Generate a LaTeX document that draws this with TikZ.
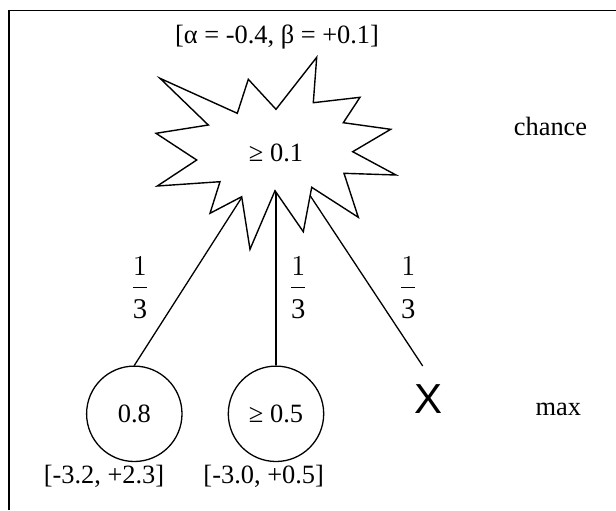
\documentclass[tikz,border=0pt]{standalone}
\usepackage{fontspec}
\setmainfont{Liberation Serif}
\newfontfamily\leafsans{Liberation Sans}
\usetikzlibrary{positioning, calc}
\pgfdeclarelayer{background}
\pgfsetlayers{background,main}
\tikzset{
  frameline/.style={draw=black, line width=0.65pt},
  treeline/.style={draw=black, line width=0.65pt},
  burstline/.style={draw=black, fill=white, line width=0.7pt, line join=miter},
  maxnode/.style={
    circle, draw=black, line width=0.65pt, minimum size=47.7pt, inner sep=0pt,
    font=\fontsize{13.2}{16}\selectfont,
  },
  valtext/.style={inner sep=0pt, font=\fontsize{13.2}{16}\selectfont},
  sidetext/.style={inner sep=0pt, anchor=base, font=\fontsize{13.2}{16}\selectfont},
  probtext/.style={inner sep=0pt, font=\fontsize{14.3}{17}\selectfont},
  leafx/.style={inner sep=0pt, anchor=base, font=\leafsans\fontsize{21}{21}\selectfont},
}
\newcommand{\probfrac}{$\displaystyle\frac{1}{\raisebox{-2pt}{3}}$}

\begin{document}
\begin{tikzpicture}[x=0.5pt, y=-0.5pt]
\useasboundingbox (0,0) rectangle (616,510);

% frame, cut at right and bottom
\draw[frameline] (9,510) |- (616,10.5);

% Chance node -------------------------------------------------------------
\draw[burstline] (316.7,57.3) -- (313.3,102.7) -- (360,97.3) -- (343.3,122.7)
  -- (390.7,129.3) -- (352.7,151.7) -- (396,175) -- (344,173.3)
  -- (358.3,217.3) -- (311.7,187.3) -- (303.3,231.7) -- (275,190.7)
  -- (250,249.3) -- (241.7,196.7) -- (210,213.3) -- (220,181.7)
  -- (157.3,186) -- (196.7,160) -- (156,133.3) -- (208.3,125)
  -- (160,78.3) -- (237.3,113.3) -- (248.3,79.3) -- (276,109.3) -- cycle;
\node[valtext] (chance) at (276,153.3) {≥ 0.1};
\node[valtext] (window) at (277,37) {[α = -0.4, β = +0.1]};

% Max nodes ---------------------------------------------------------------
\node[maxnode] (m1) at (134.3,413.8) {0.8};
\node[maxnode] (m2) at (276,413.8) {≥ 0.5};
\node[leafx] (leaf) at (429,413.3) {X};
\coordinate (leaftop) at (422.7,366);

\node[valtext] (m1win) at ($(m1.south)+(-30.3,13.8)$) {[-3.2, +2.3]};
\node[valtext] (m2win) at ($(m2.south)+(-12.3,13.8)$) {[-3.0, +0.5]};

% Probabilities -----------------------------------------------------------
\node[probtext] (p1) at (140,287.5) {\probfrac};
\node[probtext] (p2) at (298.3,287.5) {\probfrac};
\node[probtext] (p3) at (408.3,287.5) {\probfrac};

% Layer names -------------------------------------------------------------
\node[sidetext] (chancelbl) at (550.5,135.7) {chance};
\node[sidetext] (maxlbl) at (558.3,415.5) {max};

% Edges, under the burst --------------------------------------------------
\begin{pgfonlayer}{background}
  \foreach \kid in {m1.north, m2.north, leaftop}{%
    \draw[treeline] (chance.north) -- (\kid);
  }
\end{pgfonlayer}

\end{tikzpicture}
\end{document}
